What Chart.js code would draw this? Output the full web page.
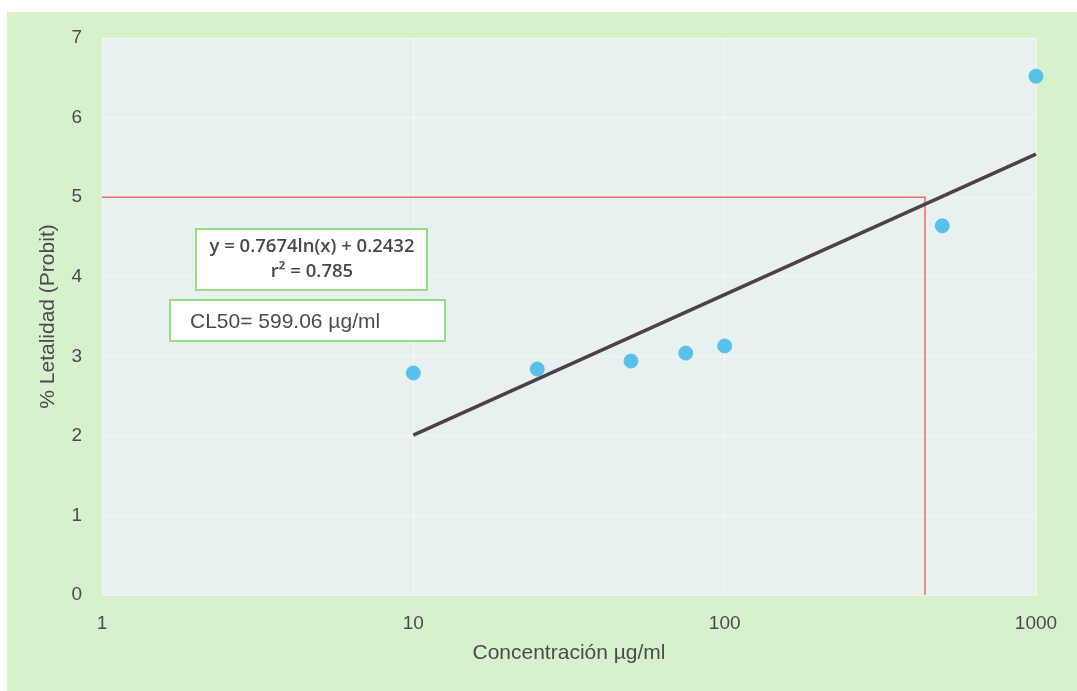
<!DOCTYPE html>
<html>
<head>
<meta charset="utf-8">
<script src="https://cdn.jsdelivr.net/npm/chart.js@4/dist/chart.umd.min.js"></script>
<style>
    html, body { margin: 0; padding: 0; background: #ffffff; }
    #wrap { width: 1077px; height: 691px; }
</style>
</head>
<body>
<div id="wrap"><canvas id="probitChart"></canvas></div>
<script>
// Observed points (concentration µg/ml, probit)
const concentrations = [10, 25, 50, 75, 100, 500, 1000];
const probits = [2.79, 2.84, 2.94, 3.04, 3.13, 4.64, 6.52];

// Trend line end points
const trendX = [10, 1000];
const trendY = [2.01, 5.54];

// CL50 guide lines (probit 5)
const guideX = [1, 440, 440];
const guideY = [5, 5, 0];

const xTickLabels = [1, 10, 100, 1000];
const yTickLabels = [0, 1, 2, 3, 4, 5, 6, 7];

const equationText = ['y = 0.7674ln(x) + 0.2432', 'r\u00b2 = 0.785'];
const cl50Text = 'CL50= 599.06 \u00b5g/ml';

const colors = {
    page: '#d6f2cc',
    plot: '#e9f0f0',
    grid: 'rgba(255, 255, 255, 0.55)',
    point: '#58c1ea',
    trend: '#4b4247',
    guide: '#f26b6b',
    text: '#4e4a4c',
    boxBorder: '#97dc86'
};

const toPoints = (xs, ys) => xs.map((x, i) => ({ x: x, y: ys[i] }));

// Backgrounds: green sheet, grey-blue plot area
const backgroundPlugin = {
    id: 'backgrounds',
    beforeDraw(chart) {
        const ctx = chart.ctx;
        const a = chart.chartArea;
        ctx.save();
        ctx.fillStyle = colors.page;
        ctx.fillRect(7, 12, chart.width - 7, chart.height - 12);
        ctx.fillStyle = colors.plot;
        ctx.fillRect(a.left, a.top, a.right - a.left, a.bottom - a.top);
        ctx.restore();
    }
};

// Text boxes with the regression and CL50
const notesPlugin = {
    id: 'notes',
    afterDraw(chart) {
        const ctx = chart.ctx;
        ctx.save();
        ctx.lineWidth = 2;
        ctx.strokeStyle = colors.boxBorder;
        ctx.fillStyle = '#ffffff';

        ctx.fillRect(196, 229, 231, 61);
        ctx.strokeRect(196, 229, 231, 61);
        ctx.fillStyle = '#484848';
        ctx.font = '600 18.5px "Open Sans", "Liberation Sans", sans-serif';
        ctx.textAlign = 'center';
        ctx.textBaseline = 'middle';
        ctx.fillText(equationText[0], 312, 247);
        ctx.fillText(equationText[1], 312, 272);

        ctx.fillStyle = '#ffffff';
        ctx.fillRect(170, 300, 275, 41);
        ctx.strokeRect(170, 300, 275, 41);
        ctx.fillStyle = colors.text;
        ctx.font = '21px "Liberation Sans", Arial, sans-serif';
        ctx.textAlign = 'left';
        ctx.fillText(cl50Text, 190, 322);
        ctx.restore();
    }
};

const ctx = document.getElementById('probitChart');
new Chart(ctx, {
    type: 'scatter',
    data: {
        datasets: [
            {
                label: 'CL50',
                type: 'line',
                data: toPoints(guideX, guideY),
                borderColor: colors.guide,
                borderWidth: 1.5,
                pointRadius: 0,
                fill: false,
                tension: 0,
                order: 3
            },
            {
                label: 'Tendencia',
                type: 'line',
                data: toPoints(trendX, trendY),
                borderColor: colors.trend,
                borderWidth: 3.5,
                pointRadius: 0,
                fill: false,
                clip: false,
                order: 2
            },
            {
                label: 'Probit',
                data: toPoints(concentrations, probits),
                backgroundColor: colors.point,
                borderColor: colors.point,
                pointRadius: 7,
                clip: false,
                order: 1
            }
        ]
    },
    options: {
        responsive: true,
        maintainAspectRatio: false,
        animation: false,
        layout: {
            padding: { left: 0, top: 38, right: 41, bottom: 0 }
        },
        plugins: {
            legend: { display: false },
            tooltip: { enabled: false }
        },
        scales: {
            x: {
                type: 'logarithmic',
                min: 1,
                max: 1000,
                afterBuildTicks(scale) {
                    scale.ticks = xTickLabels.map(v => ({ value: v }));
                },
                afterFit(scale) {
                    scale.height = 96;
                },
                grid: {
                    color: colors.grid,
                    lineWidth: 1,
                    drawTicks: false
                },
                border: { display: false },
                ticks: {
                    color: colors.text,
                    padding: 17,
                    font: { family: '"Liberation Sans", Arial, sans-serif', size: 19 },
                    callback: function(value) {
                        return String(value);
                    }
                },
                title: {
                    display: true,
                    text: 'Concentraci\u00f3n \u00b5g/ml',
                    color: colors.text,
                    padding: { top: 0, bottom: 25 },
                    font: { family: '"Liberation Sans", Arial, sans-serif', size: 21 }
                }
            },
            y: {
                min: 0,
                max: 7,
                afterBuildTicks(scale) {
                    scale.ticks = yTickLabels.map(v => ({ value: v }));
                },
                afterFit(scale) {
                    scale.width = 102;
                },
                grid: {
                    color: colors.grid,
                    lineWidth: 1,
                    drawTicks: false
                },
                border: { display: false },
                ticks: {
                    color: colors.text,
                    padding: 20,
                    font: { family: '"Liberation Sans", Arial, sans-serif', size: 19 }
                },
                title: {
                    display: true,
                    text: '% Letalidad (Probit)',
                    color: colors.text,
                    padding: { top: 36, bottom: 0 },
                    font: { family: '"Liberation Sans", Arial, sans-serif', size: 21 }
                }
            }
        }
    },
    plugins: [backgroundPlugin, notesPlugin]
});
</script>
</body>
</html>
